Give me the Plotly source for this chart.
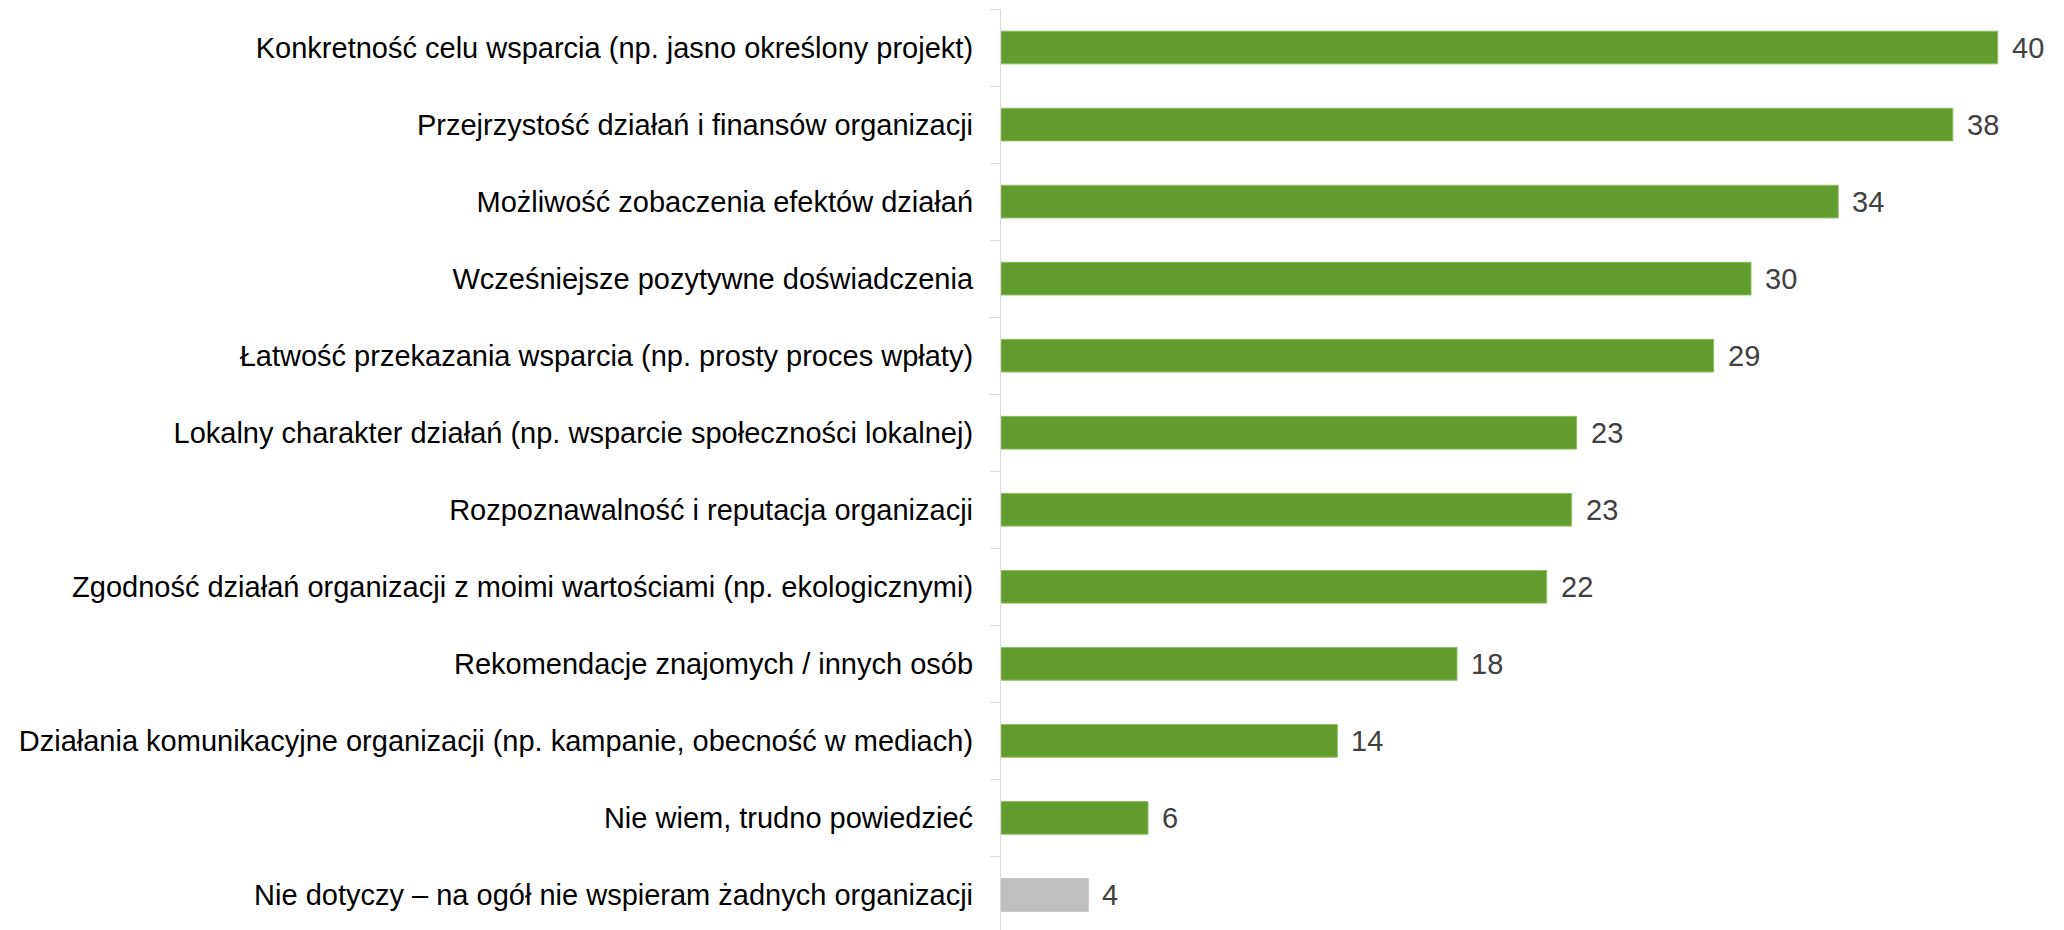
import plotly.graph_objects as go

categories = [
    "Konkretność celu wsparcia (np. jasno określony projekt)",
    "Przejrzystość działań i finansów organizacji",
    "Możliwość zobaczenia efektów działań",
    "Wcześniejsze pozytywne doświadczenia",
    "Łatwość przekazania wsparcia (np. prosty proces wpłaty)",
    "Lokalny charakter działań (np. wsparcie społeczności lokalnej)",
    "Rozpoznawalność i reputacja organizacji",
    "Zgodność działań organizacji z moimi wartościami (np. ekologicznymi)",
    "Rekomendacje znajomych / innych osób",
    "Działania komunikacyjne organizacji (np. kampanie, obecność w mediach)",
    "Nie wiem, trudno powiedzieć",
    "Nie dotyczy – na ogół nie wspieram żadnych organizacji",
]
values = [40.0, 38.2, 33.6, 30.1, 28.6, 23.1, 22.9, 21.9, 18.3, 13.5, 5.9, 3.5]
labels = ["40", "38", "34", "30", "29", "23", "23", "22", "18", "14", "6", "4"]
colors = ["#629C2F"] * 11 + ["#BFBFBF"]
line_colors = ["#8DC05E"] * 11 + ["#BFBFBF"]

FONT = "Liberation Sans, Arial, sans-serif"
W, H = 2064, 930
fig = go.Figure()
fig.add_trace(go.Bar(
    x=values, y=categories, orientation="h",
    marker=dict(color=colors, line=dict(color=line_colors, width=1)),
    hoverinfo="skip",
))

for v, c, t in zip(values, categories, labels):
    fig.add_annotation(x=v, y=c, text=t, showarrow=False, xanchor="left",
                       yanchor="middle", xshift=12,
                       font=dict(family=FONT, size=29, color="#404040"))

fig.update_layout(
    width=W, height=H,
    margin=dict(l=1001, r=4, t=9, b=0, pad=0, autoexpand=False),
    paper_bgcolor="white", plot_bgcolor="white",
    bargap=0.576, showlegend=False,
    xaxis=dict(range=[0, 42.5], visible=False, showgrid=False, zeroline=False,
               automargin=False),
    yaxis=dict(
        categoryorder="array", categoryarray=categories,
        range=[11.455, -0.5], automargin=False,
        showline=True, linecolor="#D9D9D9", linewidth=1.3,
        ticks="outside", ticklen=10, tickcolor="#D9D9D9", tickwidth=1.3,
        tickson="boundaries", ticklabelstandoff=21,
        showgrid=False, zeroline=False,
        tickfont=dict(family=FONT, size=29, color="#000000"),
    ),
)
fig.write_html("out.html",
               config={"displayModeBar": False},
               post_script="document.body.style.margin='0';document.body.style.overflow='hidden';")
